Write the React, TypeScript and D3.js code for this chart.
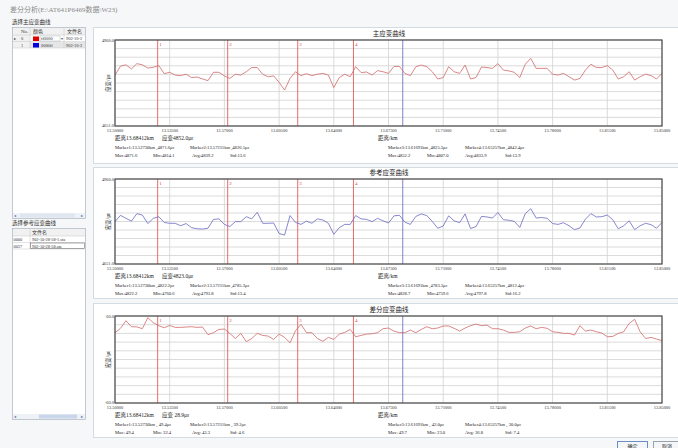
import * as d3 from "d3";

// distance axis (km)
const kmTicks = [13.5, 13.535, 13.57, 13.605, 13.64, 13.675, 13.71, 13.745, 13.78, 13.815, 13.85];
const kmTickLabels = ["13.50000", "13.53500", "13.57000", "13.60500", "13.64000", "13.67500", "13.71000", "13.74500", "13.78000", "13.81500", "13.85000"];
const kmStart = 13.5;
const kmStep = 0.0035;
const markerKm = [13.5273, 13.57211, 13.61691, 13.65257];
const cursorKm = 13.68412;

// strain samples, one per kmStep
const mainStrain = [
  4834, 4866, 4871, 4856, 4875, 4871, 4859, 4862, 4868, 4839, 4844, 4834, 4832, 4837, 4825, 4827, 4820, 4814, 4844, 4844,
  4831, 4822, 4837, 4834, 4846, 4861, 4861, 4837, 4828, 4831, 4808, 4780, 4822, 4846, 4832, 4839, 4832, 4837, 4840, 4834,
  4789, 4825, 4837, 4828, 4864, 4843, 4845, 4834, 4850, 4846, 4840, 4865, 4865, 4840, 4832, 4864, 4870, 4864, 4846, 4820,
  4825, 4864, 4846, 4840, 4870, 4820, 4825, 4863, 4861, 4858, 4875, 4852, 4849, 4844, 4825, 4873, 4894, 4858, 4858, 4858,
  4837, 4834, 4840, 4828, 4816, 4822, 4852, 4873, 4861, 4861, 4868, 4852, 4820, 4828, 4846, 4816, 4828, 4837, 4832, 4820,
  4840,
];
const refStrain = [
  4805, 4828, 4817, 4807, 4834, 4829, 4798, 4817, 4823, 4802, 4799, 4799, 4790, 4798, 4783, 4779, 4778, 4781, 4813, 4815,
  4795, 4787, 4805, 4805, 4823, 4815, 4839, 4799, 4799, 4800, 4762, 4756, 4827, 4802, 4795, 4807, 4799, 4815, 4811, 4799,
  4759, 4783, 4795, 4795, 4827, 4815, 4813, 4805, 4817, 4808, 4800, 4826, 4828, 4803, 4795, 4824, 4833, 4827, 4806, 4781,
  4789, 4826, 4808, 4801, 4833, 4780, 4787, 4824, 4822, 4818, 4838, 4812, 4810, 4806, 4784, 4834, 4852, 4818, 4820, 4817,
  4798, 4795, 4801, 4790, 4776, 4782, 4814, 4834, 4822, 4823, 4829, 4812, 4779, 4790, 4808, 4776, 4790, 4799, 4794, 4781,
  4802,
];
const diffStrain = [
  37, 43, 53.5, 45.2, 45, 42.5, 57.7, 50.8, 46.6, 43.8, 47, 44.3, 44.3, 44.8, 45.2, 44.3, 44.8, 34.2, 37, 41.5,
  42, 36, 29, 36, 24.5, 29, 36, 33.2, 32.3, 27.7, 35, 30.5, 23, 39.7, 48.5, 37, 37, 29, 25, 30.5,
  27.7, 35, 37.4, 41.5, 31.4, 33.2, 35, 35.5, 37, 42.5, 43.4, 39.2, 37, 37, 40.6, 37, 41.5, 45.2, 42.5, 43.4,
  46.2, 46.2, 43, 39.2, 43.4, 46.6, 48.9, 46.6, 47.5, 42.5, 42.5, 40.6, 37.4, 37.4, 38.3, 43.4, 46.2, 42.5, 44.3, 43,
  38.3, 37.4, 36, 36, 33.7, 46.6, 39.2, 40.6, 38.3, 36.5, 31.4, 31.8, 36, 38.3, 49.8, 55.4, 38.3, 29, 30.5, 28.2,
  25.9,
];

// readouts under each chart
const mainCursor = ["距离13.68412km", "应变4852.0με"];
const mainMarkers = ["Marker1:13.52730km ,4871.6με", "Marker2:13.57211km ,4826.5με", "Marker3:13.61691km ,4825.3με", "Marker4:13.65257km ,4842.4με"];
const mainStats = ["Max:4871.6", "Min:4814.1", "Avg:4839.2", "Std:13.6", "Max:4852.2", "Min:4807.0", "Avg:4833.9", "Std:13.9"];
const refCursor = ["距离13.68412km", "应变4823.0με"];
const refMarkers = ["Marker1:13.52730km ,4822.2με", "Marker2:13.57211km ,4785.3με", "Marker3:13.61691km ,4783.3με", "Marker4:13.65257km ,4812.4με"];
const refStats = ["Max:4822.2", "Min:4760.6", "Avg:4793.8", "Std:13.4", "Max:4828.7", "Min:4759.6", "Avg:4797.8", "Std:16.2"];
const diffCursor = ["距离13.68412km", "应变 28.9με"];
const diffMarkers = ["Marker1:13.52730km , 49.4με", "Marker2:13.57211km , 39.2με", "Marker3:13.61691km , 42.0με", "Marker4:13.65257km , 30.0με"];
const diffStats = ["Max: 49.4", "Min: 32.4", "Avg: 43.3", "Std: 4.6", "Max: 49.7", "Min: 23.0", "Avg: 36.8", "Std: 7.4"];

const mainFiles = [["0", "ff0000", "902-10-2"], ["1", "0000ff", "902-10-2"]];
const mainColors = ["#e00000", "#0000e0"];
const refFiles = [["0000", "902-10-28-58-1.sta"], ["0037", "902-10-28-58.sta"]];

const font = "'Liberation Serif', 'Noto Sans CJK SC', serif";
const plotLeft = 115;
const plotRight = 662;

interface ChartProps {
  title: string;
  values: number[];
  color: string;
  yDomain: [number, number];
  yLabels: [string, string];
  panelTop: number;
  panelBottom: number;
  top: number;
  bottom: number;
  cursor: string[];
  markers: string[];
  stats: string[];
}

function StrainChart({ title, values, color, yDomain, yLabels, panelTop, panelBottom, top, bottom, cursor, markers, stats }: ChartProps) {
  const x = d3.scaleLinear([kmTicks[0], kmTicks[kmTicks.length - 1]], [plotLeft, plotRight]);
  const y = d3.scaleLinear(yDomain, [bottom, top]);
  const line = d3
    .line<number>()
    .x((d, i) => x(kmStart + i * kmStep))
    .y((d) => y(d));
  const hGrid = d3.range(11).map((k) => yDomain[0] + (k * (yDomain[1] - yDomain[0])) / 10);
  const statX = [115, 153, 192, 230, 388, 427, 465, 505];
  const markX = [115, 190, 388, 465];

  return (
    <g fontFamily={font}>
      <rect x={93.5} y={panelTop + 0.5} width={600} height={panelBottom - panelTop} fill="#fff" stroke="#d3dbe3" />
      <text x={389} y={top - 4} fontSize={6.5} textAnchor="middle" fill="#222">{title}</text>
      <g stroke="#d2d2d2" strokeWidth={0.8}>
        {hGrid.map((v, i) => (
          <line key={i} x1={plotLeft} x2={plotRight} y1={y(v)} y2={y(v)} />
        ))}
        {kmTicks.map((k, i) => (
          <line key={i} x1={x(k)} x2={x(k)} y1={top} y2={bottom} />
        ))}
      </g>
      {markerKm.map((k, i) => (
        <g key={i}>
          <line x1={x(k)} x2={x(k)} y1={top} y2={bottom} stroke="#e04848" strokeWidth={0.8} />
          <text x={x(k) + 1.5} y={top + 5.5} fontSize={5} fill="#e04848">{i + 1}</text>
        </g>
      ))}
      <line x1={x(cursorKm)} x2={x(cursorKm)} y1={top} y2={bottom} stroke="#6262c0" strokeWidth={0.8} />
      <path d={line(values) as string} fill="none" stroke={color} strokeWidth={0.8} />
      <rect x={plotLeft} y={top} width={plotRight - plotLeft} height={bottom - top} fill="none" stroke="#4a4a4a" strokeWidth={1.2} />
      <g fontSize={4.4} fill="#333" textAnchor="middle">
        {kmTicks.map((k, i) => (
          <text key={i} x={x(k)} y={bottom + 5.5}>{kmTickLabels[i]}</text>
        ))}
      </g>
      <g fontSize={4.4} fill="#333" textAnchor="end">
        <text x={plotLeft - 1} y={top + 1.5}>{yLabels[0]}</text>
        <text x={plotLeft - 1} y={bottom + 1}>{yLabels[1]}</text>
      </g>
      <text transform={`translate(${plotLeft - 5},${(top + bottom) / 2}) rotate(-90)`} fontSize={5.5} textAnchor="middle" fill="#222">应变/με</text>
      <text x={378} y={bottom + 13.5} fontSize={5.5} fill="#222">距离/km</text>
      <text x={115} y={bottom + 13.5} fontSize={5.5} fill="#222">{cursor[0]}</text>
      <text x={162} y={bottom + 13.5} fontSize={5.5} fill="#222">{cursor[1]}</text>
      <g fontSize={4.6} fill="#222">
        {markers.map((m, i) => (
          <text key={i} x={markX[i]} y={bottom + 22.5}>{m}</text>
        ))}
        {stats.map((s, i) => (
          <text key={i} x={statX[i]} y={bottom + 30.5}>{s}</text>
        ))}
      </g>
    </g>
  );
}

function LeftPanel() {
  return (
    <g fontFamily={font} fontSize={5}>
      <text x={12} y={24} fontSize={5.5} fill="#333">选择主应变曲线</text>
      <rect x={12.5} y={27.5} width={73} height={191} fill="#fff" stroke="#a9b3bd" strokeWidth={0.7} />
      <rect x={13} y={28} width={72} height={7} fill="#f1f1f1" />
      <rect x={13} y={35} width={17} height={13} fill="#f1f1f1" />
      <rect x={30} y={42} width={55} height={6} fill="#e6e6e6" />
      <g stroke="#c4c4c4" strokeWidth={0.5}>
        <line x1={30} x2={30} y1={28} y2={48} />
        <line x1={64} x2={64} y1={28} y2={48} />
        <line x1={13} x2={85} y1={35} y2={35} />
        <line x1={13} x2={85} y1={41.5} y2={41.5} />
        <line x1={13} x2={85} y1={48} y2={48} />
      </g>
      <text x={21} y={33} fill="#333">No.</text>
      <text x={33} y={33} fill="#333">颜色</text>
      <text x={67} y={33} fill="#333">文件名</text>
      <text x={14} y={40} fontSize={4} fill="#333">▸</text>
      {mainFiles.map((r, i) => (
        <g key={i} fontSize={4.4} fill="#333">
          <text x={21} y={40 + i * 6.5}>{r[0]}</text>
          <rect x={33} y={36.5 + i * 6.5} width={6} height={4.5} fill={mainColors[i]} />
          <text x={41} y={40 + i * 6.5}>{r[1]}</text>
          <text x={66} y={40 + i * 6.5}>{r[2]}</text>
        </g>
      ))}
      <rect x={40} y={36} width={20} height={5} fill="none" stroke="#9aa" strokeWidth={0.4} />
      <text x={61} y={40} fontSize={3.5} fill="#555">▾</text>
      <rect x={13} y={213} width={72} height={5} fill="#eef1f5" />
      <rect x={20} y={213.5} width={55} height={4} fill="#dfe6f0" />
      <text x={14} y={217.2} fontSize={4} fill="#46a">◂</text>
      <text x={80.5} y={217.2} fontSize={4} fill="#46a">▸</text>

      <text x={12} y={225} fontSize={5.5} fill="#333">选择参考应变曲线</text>
      <rect x={12.5} y={228.5} width={73} height={191} fill="#fff" stroke="#a9b3bd" strokeWidth={0.7} />
      <rect x={13} y={229} width={72} height={7} fill="#f1f1f1" />
      <g stroke="#c4c4c4" strokeWidth={0.5}>
        <line x1={30} x2={30} y1={229} y2={249} />
        <line x1={13} x2={85} y1={236} y2={236} />
        <line x1={13} x2={85} y1={242.5} y2={242.5} />
        <line x1={13} x2={85} y1={249} y2={249} />
      </g>
      <text x={32} y={234} fill="#333">文件名</text>
      {refFiles.map((r, i) => (
        <g key={i} fontSize={4.3} fill="#333">
          <text x={13.5} y={241 + i * 6.5}>{r[0]}</text>
          <text x={32} y={241 + i * 6.5}>{r[1]}</text>
        </g>
      ))}
      <rect x={30.5} y={243} width={54} height={5.5} fill="none" stroke="#555" strokeWidth={0.5} />
      <rect x={13} y={414} width={72} height={5} fill="#eef1f5" />
      <rect x={39} y={414.5} width={38} height={4} fill="#c9d6ea" />
      <text x={14} y={418.2} fontSize={4} fill="#46a">◂</text>
      <text x={80.5} y={418.2} fontSize={4} fill="#46a">▸</text>
    </g>
  );
}

export default function App() {
  return (
    <svg width={678} height={448} style={{ position: "absolute", left: 0, top: 0, display: "block" }}>
      <rect width={678} height={448} fill="#f6f7f8" />
      <text x={10} y={12} fontFamily={font} fontSize={7} fill="#8a8a8a">差分分析(E:\AT641P6469数据\W23)</text>
      <LeftPanel />
      <StrainChart
        title="主应变曲线"
        values={mainStrain}
        color="#d06a6a"
        yDomain={[4651, 4960]}
        yLabels={["4960.0", "4651.0"]}
        panelTop={27}
        panelBottom={163}
        top={40}
        bottom={126}
        cursor={mainCursor}
        markers={mainMarkers}
        stats={mainStats}
      />
      <StrainChart
        title="参考应变曲线"
        values={refStrain}
        color="#6a6ac2"
        yDomain={[4651, 4960]}
        yLabels={["4960.0", "4651.0"]}
        panelTop={167}
        panelBottom={298}
        top={179}
        bottom={264}
        cursor={refCursor}
        markers={refMarkers}
        stats={refStats}
      />
      <StrainChart
        title="差分应变曲线"
        values={diffStrain}
        color="#d06a6a"
        yDomain={[-60, 60]}
        yLabels={["60.0", "-60.0"]}
        panelTop={303}
        panelBottom={437}
        top={316}
        bottom={403}
        cursor={diffCursor}
        markers={diffMarkers}
        stats={diffStats}
      />
      <g fontFamily={font} fontSize={5} textAnchor="middle" fill="#222">
        <rect x={617.5} y={441.5} width={30} height={10} fill="#f4f6f9" stroke="#6b8fc4" />
        <text x={632.5} y={447.5}>确定</text>
        <rect x={653.5} y={441.5} width={28} height={10} fill="#f4f6f9" stroke="#9aa4ae" />
        <text x={667} y={447.5}>取消</text>
      </g>
    </svg>
  );
}
